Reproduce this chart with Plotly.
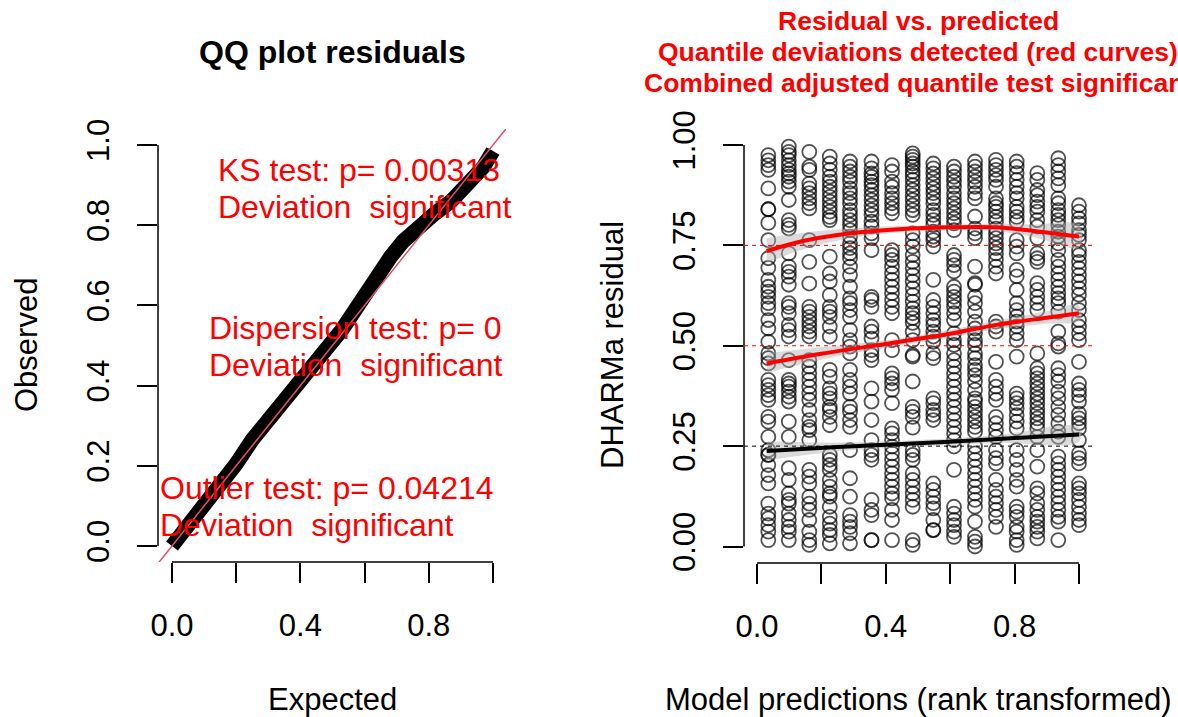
import plotly.graph_objects as go

# ---------------------------------------------------------------- data
# rank-transformed model predictions (one value per prediction group)
pred_rank = [0.0351, 0.0988, 0.1624, 0.2260, 0.2888, 0.3556, 0.4193, 0.4835,
             0.5475, 0.6118, 0.6770, 0.7422, 0.8065, 0.8705, 0.9357, 1.0]

# scaled (DHARMa) residuals in each prediction group
res_g01 = [.975, .962, .950, .938, .892, .840, .840, .806, .763, .718, .694, .664, .647, .635, .622, .606, .593, .564, .543, .510, .481, .469, .456, .415, .402, .390, .377, .365, .323, .311, .273, .240, .228, .228, .203, .178, .157, .107, .082, .070, .053, .037, .016]
res_g02 = [.996, .983, .975, .962, .950, .938, .929, .921, .909, .896, .863, .813, .801, .792, .730, .697, .684, .672, .652, .606, .597, .581, .552, .539, .523, .464, .415, .406, .398, .386, .373, .361, .311, .273, .195, .166, .132, .116, .107, .082, .066, .049, .037, .016]
res_g03 = [.983, .946, .938, .904, .892, .880, .867, .855, .842, .763, .709, .655, .597, .585, .572, .560, .548, .535, .523, .464, .448, .431, .415, .398, .381, .365, .340, .315, .298, .290, .265, .191, .174, .157, .124, .107, .091, .066, .037, .016, .004]
res_g04 = [.971, .954, .938, .921, .909, .896, .884, .871, .859, .846, .834, .821, .813, .722, .680, .660, .626, .597, .585, .572, .548, .523, .440, .423, .394, .381, .369, .348, .340, .323, .302, .228, .216, .203, .191, .166, .149, .132, .124, .099, .074, .057, .041, .029, .008]
res_g05 = [.959, .946, .934, .921, .909, .892, .880, .867, .855, .838, .826, .813, .801, .788, .772, .755, .743, .730, .718, .697, .676, .647, .618, .606, .589, .572, .539, .514, .498, .481, .440, .415, .398, .381, .348, .336, .315, .298, .240, .170, .124, .078, .062, .049, .033, .008]
res_g06 = [.959, .942, .929, .921, .909, .900, .888, .875, .863, .850, .838, .826, .809, .797, .780, .768, .738, .622, .614, .597, .548, .535, .518, .489, .477, .464, .394, .361, .315, .265, .240, .228, .216, .116, .091, .078, .016, .016]
res_g07 = [.950, .934, .909, .896, .880, .867, .855, .842, .830, .738, .726, .714, .697, .680, .664, .647, .631, .614, .597, .581, .514, .489, .431, .419, .406, .390, .357, .294, .282, .265, .249, .232, .216, .199, .182, .166, .149, .132, .120, .091, .066, .016]
res_g08 = [.979, .971, .963, .954, .946, .934, .925, .913, .900, .888, .875, .863, .850, .838, .826, .780, .763, .747, .726, .709, .693, .676, .660, .643, .626, .610, .593, .581, .569, .557, .535, .514, .477, .473, .411, .348, .336, .323, .296, .240, .228, .216, .182, .166, .149, .132, .116, .099, .016, .004]
res_g09 = [.954, .942, .929, .917, .904, .892, .880, .867, .855, .838, .826, .813, .801, .784, .772, .763, .747, .664, .614, .597, .581, .564, .552, .535, .523, .510, .481, .469, .369, .357, .340, .328, .315, .157, .141, .124, .108, .095, .066, .041, .041]
res_g10 = [.946, .934, .921, .909, .896, .880, .867, .855, .842, .830, .817, .805, .788, .726, .714, .701, .685, .647, .635, .622, .610, .597, .581, .564, .531, .514, .502, .481, .464, .448, .431, .415, .398, .381, .365, .348, .331, .315, .298, .282, .265, .249, .191, .099, .082, .066, .053, .037, .024]
res_g11 = [.959, .946, .934, .921, .909, .896, .880, .867, .822, .792, .780, .768, .697, .656, .652, .622, .606, .585, .560, .543, .531, .514, .502, .481, .469, .452, .440, .427, .411, .390, .369, .361, .348, .336, .323, .311, .298, .286, .249, .232, .216, .199, .182, .166, .149, .132, .116, .099, .062, .024, .012, .000]
res_g12 = [.963, .950, .938, .925, .913, .896, .867, .855, .846, .834, .821, .809, .792, .780, .768, .755, .743, .730, .714, .697, .680, .560, .548, .535, .460, .415, .398, .381, .365, .323, .307, .290, .273, .240, .220, .207, .166, .141, .124, .108, .091, .074, .049]
res_g13 = [.959, .946, .930, .913, .896, .880, .867, .846, .834, .821, .809, .763, .747, .730, .689, .673, .639, .606, .589, .573, .560, .548, .531, .514, .473, .381, .369, .357, .344, .327, .311, .294, .240, .216, .191, .166, .149, .099, .087, .074, .049, .037, .016, .004]
res_g14 = [.930, .913, .888, .875, .859, .846, .834, .813, .797, .768, .730, .718, .709, .656, .639, .622, .606, .589, .481, .444, .431, .419, .406, .394, .381, .369, .357, .344, .331, .319, .307, .294, .273, .240, .199, .145, .132, .108, .091, .074, .062, .049, .037, .020]
res_g15 = [.967, .950, .934, .917, .900, .867, .855, .838, .826, .813, .801, .784, .772, .755, .738, .714, .697, .680, .664, .647, .631, .618, .606, .585, .535, .506, .498, .444, .427, .411, .386, .369, .348, .328, .307, .286, .273, .224, .207, .191, .174, .157, .141, .124, .108, .091, .074, .062, .016]
res_g16 = [.850, .834, .817, .805, .788, .776, .763, .738, .726, .709, .693, .676, .660, .643, .627, .606, .589, .564, .548, .531, .514, .460, .406, .390, .377, .361, .331, .319, .307, .294, .265, .232, .220, .207, .157, .145, .132, .116, .099, .082, .066, .053]

# uniform QQ curve of the residuals (expected vs observed quantiles)
qq_expected = [0.0, 0.05, 0.10, 0.20, 0.25, 0.30, 0.37, 0.47, 0.53, 0.58, 0.63,
               0.68, 0.72, 0.77, 0.82, 0.87, 0.92, 0.97, 1.0]
qq_observed = [0.0, 0.05, 0.10, 0.205, 0.265, 0.315, 0.375, 0.475, 0.54, 0.60, 0.665,
               0.72, 0.76, 0.80, 0.83, 0.86, 0.90, 0.945, 0.985]

# fitted quantile curves (0.75, 0.50, 0.25) with their confidence bands
q75_x = [0.03, 0.15, 0.29, 0.44, 0.60, 0.744, 0.86, 1.0]
q75_y = [0.736, 0.762, 0.780, 0.790, 0.795, 0.795, 0.786, 0.772]
q75_hi = [0.768, 0.782, 0.792, 0.798, 0.801, 0.804, 0.802, 0.800]
q75_lo = [0.706, 0.742, 0.768, 0.782, 0.788, 0.786, 0.770, 0.745]

q50_x = [0.03, 0.20, 0.444, 0.60, 0.744, 0.90, 1.0]
q50_y = [0.456, 0.480, 0.510, 0.530, 0.552, 0.570, 0.581]
q50_hi = [0.482, 0.496, 0.519, 0.540, 0.563, 0.586, 0.600]
q50_lo = [0.432, 0.465, 0.501, 0.521, 0.541, 0.555, 0.562]

q25_x = [0.03, 0.25, 0.50, 0.75, 1.0]
q25_y = [0.238, 0.248, 0.257, 0.268, 0.279]
q25_hi = [0.262, 0.259, 0.265, 0.278, 0.297]
q25_lo = [0.214, 0.237, 0.249, 0.258, 0.261]

quantile_refs = [0.25, 0.50, 0.75]
quantile_cols = ["black", "red", "red"]

qq_ticks = [0.0, 0.2, 0.4, 0.6, 0.8, 1.0]
qq_xlabels = ["0.0", "", "0.4", "", "0.8", ""]
qq_ylabels = ["0.0", "0.2", "0.4", "0.6", "0.8", "1.0"]
res_yticks = [0.0, 0.25, 0.5, 0.75, 1.0]
res_ylabels = ["0.00", "0.25", "0.50", "0.75", "1.00"]

test_lines = [
    ("KS test: p= 0.00313", "Deviation  significant"),
    ("Dispersion test: p= 0", "Deviation  significant"),
    ("Outlier test: p= 0.04214", "Deviation  significant"),
]
right_title = ["Residual vs. predicted",
               "Quantile deviations detected (red curves)",
               "Combined adjusted quantile test significant"]

# ---------------------------------------------------------------- layout helpers
W, H = 1178, 717
FONT = "Liberation Sans, Arial, Helvetica, sans-serif"


def fx(px):
    return px / W


def fy(py):
    return (H - py) / H


groups = [res_g01, res_g02, res_g03, res_g04, res_g05, res_g06, res_g07, res_g08,
          res_g09, res_g10, res_g11, res_g12, res_g13, res_g14, res_g15, res_g16]
pts_x, pts_y = [], []
for xv, g in zip(pred_rank, groups):
    pts_x += [xv] * len(g)
    pts_y += g

fig = go.Figure()

# left panel: QQ plot
fig.add_trace(go.Scatter(
    x=qq_expected, y=qq_observed, mode="lines", xaxis="x", yaxis="y",
    line=dict(color="black", width=15), hoverinfo="skip"))
fig.add_trace(go.Scatter(
    x=[-0.2, 1.2], y=[-0.2, 1.2], mode="lines", xaxis="x", yaxis="y",
    line=dict(color="#e0506a", width=1.5), hoverinfo="skip"))

# right panel: residuals vs predicted
fig.add_trace(go.Scatter(
    x=pts_x, y=pts_y, mode="markers", xaxis="x2", yaxis="y2",
    marker=dict(symbol="circle-open", size=14, color="rgba(0,0,0,0.68)",
                line=dict(width=1.8, color="rgba(0,0,0,0.68)")),
    hoverinfo="skip"))

for qx, qy, hi, lo, col in [(q25_x, q25_y, q25_hi, q25_lo, "black"),
                            (q50_x, q50_y, q50_hi, q50_lo, "red"),
                            (q75_x, q75_y, q75_hi, q75_lo, "red")]:
    fig.add_trace(go.Scatter(
        x=qx + qx[::-1], y=hi + lo[::-1], mode="lines", fill="toself",
        fillcolor="rgba(175,175,175,0.45)", line=dict(width=0, shape="spline"),
        xaxis="x2", yaxis="y2", hoverinfo="skip"))
    fig.add_trace(go.Scatter(
        x=qx, y=qy, mode="lines", line=dict(color=col, width=4, shape="spline"),
        xaxis="x2", yaxis="y2", hoverinfo="skip"))

shapes = []
# axis lines spanning first to last tick
for xa, ya in [("x", "y"), ("x2", "y2")]:
    shapes.append(dict(type="line", xref=xa, yref=ya + " domain", x0=0, x1=1, y0=0, y1=0,
                       line=dict(color="black", width=1.5)))
    shapes.append(dict(type="line", xref=xa + " domain", yref=ya, x0=0, x1=0, y0=0, y1=1,
                       line=dict(color="black", width=1.5)))
# reference quantile lines
for q, c in zip(quantile_refs, quantile_cols):
    shapes.append(dict(type="line", xref="x2 domain", yref="y2", x0=0, x1=1, y0=q, y1=q,
                       line=dict(color=c, width=1, dash="4px,4px")))

ann = []
ann.append(dict(text="<b>QQ plot residuals</b>", x=fx(332), y=fy(52), xref="paper", yref="paper",
                showarrow=False, font=dict(size=32, color="black", family=FONT),
                xanchor="center", yanchor="middle"))
for i, t in enumerate(right_title):
    ann.append(dict(text="<b>%s</b>" % t, x=fx(918), y=fy(21 + 31 * i), xref="paper", yref="paper",
                    showarrow=False, font=dict(size=26.5, color="red", family=FONT),
                    xanchor="center", yanchor="middle"))
test_pos = [(216, 170), (207, 328), (158, 488)]
for (l1, l2), (lx, ly) in zip(test_lines, test_pos):
    for j, t in enumerate((l1, l2)):
        ann.append(dict(text=t, x=fx(lx), y=fy(ly + 37 * j), xref="paper", yref="paper",
                        showarrow=False, font=dict(size=32, color="red", family=FONT),
                        xanchor="left", yanchor="middle"))
ann.append(dict(text="Expected", x=fx(332), y=fy(699), xref="paper", yref="paper",
                showarrow=False, font=dict(size=31, color="black", family=FONT),
                xanchor="center", yanchor="middle"))
ann.append(dict(text="Model predictions (rank transformed)", x=fx(918), y=fy(699),
                xref="paper", yref="paper", showarrow=False,
                font=dict(size=31, color="black", family=FONT), xanchor="center", yanchor="middle"))
ann.append(dict(text="Observed", x=fx(26), y=fy(345), xref="paper", yref="paper",
                showarrow=False, textangle=-90, font=dict(size=31, color="black", family=FONT),
                xanchor="center", yanchor="middle"))
ann.append(dict(text="DHARMa residual", x=fx(612), y=fy(345), xref="paper", yref="paper",
                showarrow=False, textangle=-90, font=dict(size=31, color="black", family=FONT),
                xanchor="center", yanchor="middle"))

tickfont = dict(size=31, color="black", family=FONT)
common = dict(showgrid=False, zeroline=False, showline=False, ticks="outside",
              ticklen=20, tickwidth=1.5, tickcolor="black", tickfont=tickfont,
              automargin=False)

fig.update_layout(
    template="none", autosize=False,
    width=W, height=H, margin=dict(l=0, r=0, t=0, b=0, pad=0, autoexpand=False),
    paper_bgcolor="white", plot_bgcolor="white", showlegend=False,
    xaxis=dict(domain=[fx(158), fx(506)], range=[-0.0436, 1.0405], anchor="y",
               tickvals=qq_ticks, ticktext=qq_xlabels, ticklabelstandoff=16, **common),
    yaxis=dict(domain=[fy(562), fy(129)], range=[-0.0399, 1.0399], anchor="x",
               tickvals=qq_ticks, ticktext=qq_ylabels, tickangle=-90, ticklabelstandoff=16, **common),
    xaxis2=dict(domain=[fx(744), fx(1092)], range=[-0.0404, 1.0404], anchor="y2",
                tickvals=qq_ticks, ticktext=qq_xlabels, ticklabelstandoff=16, **common),
    yaxis2=dict(domain=[fy(563), fy(129)], range=[-0.0411, 1.0399], anchor="x2",
                tickvals=res_yticks, ticktext=res_ylabels, tickangle=-90, ticklabelstandoff=16, **common),
    shapes=shapes, annotations=ann,
)

fig.write_html("out.html")
